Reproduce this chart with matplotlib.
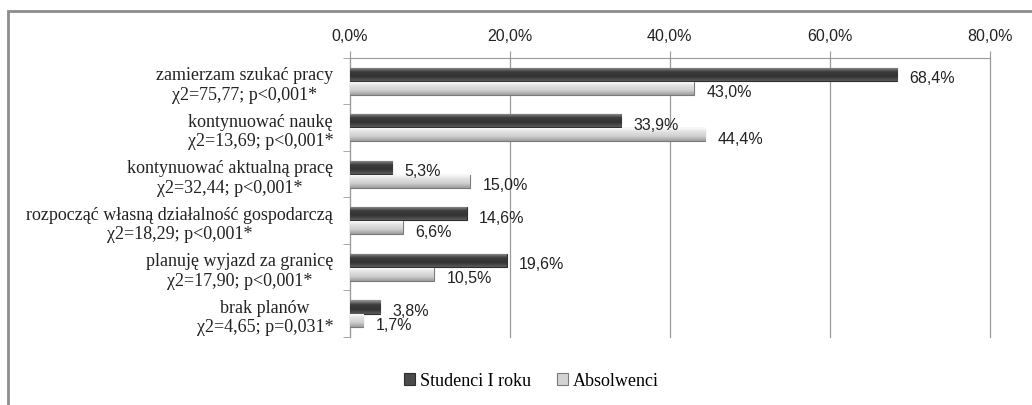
import numpy as np
import matplotlib
matplotlib.use("Agg")
import matplotlib.pyplot as plt
from matplotlib.patches import Rectangle
from matplotlib.colors import LinearSegmentedColormap
from matplotlib.ticker import FuncFormatter

# dane
categories = [
    "zamierzam szukać pracy\nχ2=75,77; p<0,001*",
    "kontynuować naukę\nχ2=13,69; p<0,001*",
    "kontynuować aktualną pracę\nχ2=32,44; p<0,001*",
    "rozpocząć własną działalność gospodarczą\nχ2=18,29; p<0,001*",
    "planuję wyjazd za granicę\nχ2=17,90; p<0,001*",
    "brak planów\nχ2=4,65; p=0,031*",
]
studenci = [68.4, 33.9, 5.3, 14.6, 19.6, 3.8]
absolwenci = [43.0, 44.4, 15.0, 6.6, 10.5, 1.7]
series_names = ["Studenci I roku", "Absolwenci"]
x_ticks = [0, 20, 40, 60, 80]

plt.rcParams['font.family'] = ['Liberation Serif', 'DejaVu Serif']
num_font = ['Liberation Sans', 'DejaVu Sans']

fig = plt.figure(figsize=(10.32, 4.06), dpi=100)
ax = fig.add_axes([0.339, 0.1675, 0.62, 0.6875])

# ramka wykresu
fig.patches.append(Rectangle((0.0078, -0.02), 1.2, 0.99, transform=fig.transFigure,
                             fill=False, edgecolor='#8c8c8c', linewidth=2))

y = np.arange(len(categories))
h = 0.28
b1 = ax.barh(y - 0.145, studenci, height=h, color='#4a4a4a', edgecolor='#2e2e2e', linewidth=0.8, zorder=3)
b2 = ax.barh(y + 0.155, absolwenci, height=h, color='#d4d4d4', edgecolor='#7a7a7a', linewidth=0.8, zorder=3)

# gradient "3D" na slupkach
cm_dark = LinearSegmentedColormap.from_list('d', ['#9a9a9a', '#3c3c3c', '#333333', '#5a5a5a'])
cm_light = LinearSegmentedColormap.from_list('l', ['#ffffff', '#e2e2e2', '#cfcfcf', '#9c9c9c'])
grad = np.linspace(0, 1, 64).reshape(-1, 1)
for bars, cm in ((b1, cm_dark), (b2, cm_light)):
    for rect in bars:
        x0, y0 = rect.get_x(), rect.get_y()
        w, hh = rect.get_width(), rect.get_height()
        im = ax.imshow(grad, cmap=cm, aspect='auto', extent=(x0, x0 + w, y0 + hh, y0),
                       zorder=3.5, interpolation='bilinear')
        im.set_clip_path(rect)

fmt = lambda v: f"{v:.1f}%".replace('.', ',')
for bars, vals in ((b1, studenci), (b2, absolwenci)):
    for rect, v in zip(bars, vals):
        ax.annotate(fmt(v), (v, rect.get_y() + rect.get_height() / 2),
                    xytext=(9, -2.5), textcoords='offset points',
                    ha='left', va='center', fontsize=11.5, color='#222222', zorder=4,
                    family=num_font)

ax.set_xlim(0, 80)
ax.set_ylim(len(categories) - 0.5, -0.5)
ax.set_xticks(x_ticks)
ax.xaxis.set_major_formatter(FuncFormatter(lambda v, p: fmt(v)))
ax.xaxis.tick_top()
ax.tick_params(axis='x', direction='out', length=5, color='#9a9a9a', labelsize=11.5, pad=6, labelcolor='#222222')
for t in ax.get_xticklabels():
    t.set_family(num_font)
ax.grid(axis='x', color='#9a9a9a', linewidth=0.9, zorder=0)
for l in ax.get_xgridlines():
    l.set_clip_on(False)

ax.set_yticks(y)
ax.set_yticklabels(categories, fontsize=13, color='#222222', linespacing=1.2,
                   multialignment='center')
ax.set_yticks(np.arange(len(categories) + 1) - 0.5, minor=True)
ax.tick_params(axis='y', which='major', length=0, pad=12)
ax.tick_params(axis='y', which='minor', length=5, color='#9a9a9a', direction='out')

for s in ('right', 'bottom'):
    ax.spines[s].set_visible(False)
ax.spines['top'].set_color('#9a9a9a')
ax.spines['left'].set_color('#9a9a9a')

fig.legend([b1, b2], series_names, loc='center', bbox_to_anchor=(0.515, 0.06), ncol=2,
           frameon=False, fontsize=13, handlelength=0.6, handleheight=0.6,
           handletextpad=0.3, columnspacing=1.4)

fig.savefig("out.png", dpi=100)
